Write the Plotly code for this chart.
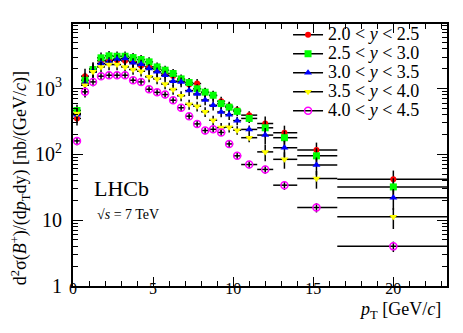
import plotly.graph_objects as go

# pT bins [GeV/c]
pt = [0.25, 0.75, 1.25, 1.75, 2.25, 2.75, 3.25, 3.75, 4.25, 4.75, 5.25, 5.75, 6.25,
      6.75, 7.25, 7.75, 8.25, 8.75, 9.25, 9.75, 10.25, 11.0, 12.0, 13.2, 15.2, 20.0]
pt_lo = [0.0, 0.5, 1.0, 1.5, 2.0, 2.5, 3.0, 3.5, 4.0, 4.5, 5.0, 5.5, 6.0,
         6.5, 7.0, 7.5, 8.0, 8.5, 9.0, 9.5, 10.0, 10.5, 11.5, 12.5, 14.0, 16.5]
pt_hi = [0.5, 1.0, 1.5, 2.0, 2.5, 3.0, 3.5, 4.0, 4.5, 5.0, 5.5, 6.0, 6.5,
         7.0, 7.5, 8.0, 8.5, 9.0, 9.5, 10.0, 10.5, 11.5, 12.5, 14.0, 16.5, 23.5]

# d2sigma/(dpT dy) [nb/(GeV/c)] per rapidity bin
xs_y20_25 = [351, 1540, 2000, 2650, 2690, 2690, 2630, 2540, 2210, 2130, 1970, 1690, 1550,
             1350, 1150, 1190, 870, 780, 641, 540, 470, 394, 294, 213, 116, 42]
xs_y25_30 = [464, 1336, 1942, 2925, 3135, 3090, 3090, 2950, 2755, 2540, 2130, 1900, 1690,
             1400, 1232, 990, 880, 790, 590, 520, 450, 351, 253, 179, 95, 32]
xs_y30_35 = [400, 1190, 1850, 2400, 2540, 2785, 2850, 2455, 2340, 2010, 1790, 1590, 1290,
             1260, 930, 825, 670, 557, 440, 400, 325, 239, 196, 126, 69, 22]
xs_y35_40 = [417, 1122, 1790, 2130, 2310, 2310, 2130, 1942, 1830, 1505, 1400, 1170, 966,
             775, 575, 540, 443, 330, 255, 258, 233, 179, 109, 84, 43, 11.3]
xs_y40_45 = [160, 890, 1260, 1540, 1592, 1592, 1592, 1336, 1260, 975, 875, 810, 664,
             510, 380, 290, 230, 240, 215, 144, 95, 70, 59, 34, 15.6, 4.0]

# relative uncertainty per bin (first four rapidity bins, and the most forward one)
rel_err = [0.22, 0.3, 0.25, 0.2, 0.18, 0.18, 0.18, 0.17, 0.17, 0.17, 0.17, 0.17, 0.17,
           0.17, 0.17, 0.17, 0.17, 0.17, 0.17, 0.17, 0.15, 0.15, 0.28, 0.28, 0.3, 0.35]
rel_err_fwd = [0.14, 0.18, 0.14, 0.12, 0.12, 0.12, 0.12, 0.12, 0.12, 0.12, 0.12, 0.12, 0.12,
               0.12, 0.12, 0.12, 0.12, 0.12, 0.12, 0.12, 0.12, 0.12, 0.14, 0.15, 0.16, 0.18]

labels = ["2.0 &lt; <i>y</i> &lt; 2.5", "2.5 &lt; <i>y</i> &lt; 3.0", "3.0 &lt; <i>y</i> &lt; 3.5",
          "3.5 &lt; <i>y</i> &lt; 4.0", "4.0 &lt; <i>y</i> &lt; 4.5"]
series = [xs_y20_25, xs_y25_30, xs_y30_35, xs_y35_40, xs_y40_45]
errs = [rel_err, rel_err, rel_err, rel_err, rel_err_fwd]
colors = ["#ff0000", "#00ff00", "#0000ff", "#ffff00", "#ff00ff"]
symbols = ["circle", "square", "triangle-up", "triangle-down", "circle-open"]
sizes = [6, 7, 7, 7, 7]

FONT = "Liberation Serif"
ex_minus = [p - lo for p, lo in zip(pt, pt_lo)]
ex_plus = [hi - p for p, hi in zip(pt, pt_hi)]

fig = go.Figure()
for vals, err, lab, col, sym, sz in zip(series, errs, labels, colors, symbols, sizes):
    marker = dict(color=col, symbol=sym, size=sz)
    if sym == "circle-open":
        marker["line"] = dict(color=col, width=1.5)
    fig.add_trace(go.Scatter(
        x=pt, y=vals, mode="markers", marker=marker, showlegend=False,
        error_y=dict(type="data", array=[v * e for v, e in zip(vals, err)],
                     color="black", thickness=1.5, width=0),
        error_x=dict(type="data", symmetric=False, array=ex_plus, arrayminus=ex_minus,
                     color="black", thickness=1.5, width=0)))
    # legend entry drawn ROOT-style: black line with coloured marker
    fig.add_trace(go.Scatter(
        x=[None], y=[None], mode="lines+markers", marker=marker,
        line=dict(color="black", width=1.5),
        name='<span style="font-size:18px">' + lab + "</span>"))

axis_common = dict(showline=True, linecolor="black", linewidth=1.5, mirror="ticks",
                   ticks="inside", tickcolor="black", showgrid=False, zeroline=False,
                   tickfont=dict(family=FONT, size=16, color="black"))

fig.update_xaxes(range=[0, 23.35], tickvals=[0, 5, 10, 15, 20], ticklen=9,
                 ticklabelstandoff=-13,
                 minor=dict(dtick=1, ticks="inside", ticklen=5, tickcolor="black", showgrid=False),
                 **axis_common)
fig.update_yaxes(type="log", range=[0, 3.98], dtick=1, exponentformat="power", ticklen=10,
                 ticklabelstandoff=6,
                 minor=dict(dtick="D1", ticks="inside", ticklen=5, tickcolor="black", showgrid=False),
                 **axis_common)

fig.add_annotation(text="d<sup>2</sup>σ(<i>B</i><sup>+</sup>)/(d<i>p</i><sub>T</sub>dy) [nb/(GeV/<i>c</i>)]",
                   xref="paper", yref="paper", x=0, xshift=-53, y=0.411, xanchor="center",
                   yanchor="middle", textangle=-90, showarrow=False,
                   font=dict(family=FONT, size=18, color="black"))
fig.add_annotation(text="<i>p</i><sub>T</sub> [GeV/<i>c</i>]", xref="paper", yref="paper",
                   x=0.9885, y=0, yshift=-11, xanchor="right", yanchor="top", showarrow=False,
                   font=dict(family=FONT, size=18, color="black"))
fig.add_annotation(text="LHCb", xref="paper", yref="paper", x=0.05, y=0.372,
                   xanchor="left", yanchor="middle", showarrow=False,
                   font=dict(family=FONT, size=22, color="black"))
fig.add_annotation(text="√<i>s</i> = 7 TeV", xref="paper", yref="paper", x=0.058, y=0.274,
                   xanchor="left", yanchor="middle", showarrow=False,
                   font=dict(family=FONT, size=14, color="black"))

fig.update_layout(
    width=463, height=333,
    margin=dict(l=65, r=24, t=16, b=55),
    paper_bgcolor="white", plot_bgcolor="white",
    font=dict(family=FONT, color="black"),
    legend=dict(x=0.575, y=1.014, xanchor="left", yanchor="top", bgcolor="rgba(0,0,0,0)",
                font=dict(family=FONT, size=12, color="black")),
)

fig.write_html("out.html")
